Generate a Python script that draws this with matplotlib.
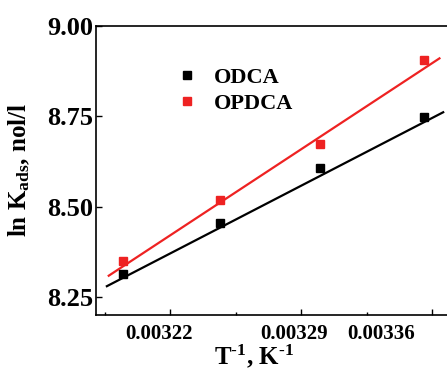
# ln K_ads vs 1/T for ODCA and OPDCA
import numpy as np
import matplotlib
matplotlib.use("Agg")
import matplotlib.pyplot as plt

plt.rcParams['font.family'] = ['Liberation Serif', 'DejaVu Serif']
plt.rcParams['font.weight'] = 'bold'
plt.rcParams['mathtext.fontset'] = 'custom'
plt.rcParams['mathtext.rm'] = 'Liberation Serif:bold'
plt.rcParams['mathtext.it'] = 'Liberation Serif:bold'
plt.rcParams['mathtext.bf'] = 'Liberation Serif:bold'

# data
temps = [313, 308, 303, 298]
inv_T = [1 / t for t in temps]
odca = [8.315, 8.454, 8.608, 8.748]
opdca = [8.350, 8.517, 8.673, 8.905]
# fitted lines as drawn in the original (end points)
fit_x_b = [0.003186, 0.003366]
fit_y_b = [8.280, 8.761]
fit_x_r = [0.003187, 0.003364]
fit_y_r = [8.309, 8.910]
xticks = [0.00322, 0.00329, 0.00336]
xtick_labels = ['0.00322', '0.00329', '0.00336']
yticks = [8.25, 8.50, 8.75, 9.00]

fig = plt.figure(figsize=(4.47, 3.69), dpi=100)
ax = fig.add_axes([0.214, 0.146, 0.79, 0.784])

ax.plot(fit_x_b, fit_y_b, color='black', lw=1.6)
ax.plot(fit_x_r, fit_y_r, color='#ee2222', lw=1.6)

ax.plot(inv_T, odca, 's', color='black', ms=5.8, label='ODCA', ls='none')
ax.plot(inv_T, opdca, 's', color='#ee2222', ms=5.8, label='OPDCA', ls='none')

ax.set_xlim(0.00318, 0.003369)
ax.set_ylim(8.2, 9.0)
ax.spines['right'].set_visible(False)
for s in ['left', 'bottom', 'top']:
    ax.spines[s].set_linewidth(1.2)

ax.set_yticks(yticks)
ax.set_yticklabels(['8.25', '8.50', '8.75', '9.00'], fontsize=19, fontweight='bold')
ax.set_xticks(xticks)
ax.set_xticks([0.003185, 0.003255, 0.003325], minor=True)
ax.set_xticklabels([])
ax.tick_params(direction='in', length=4, width=1, top=False, right=False)
ax.tick_params(which='minor', direction='in', length=2.5, width=1)
ax.tick_params(axis='y', pad=2)

# tick labels sit a bit off their ticks in the original
label_pos = [0.003214, 0.003286, 0.003333]
for xp, txt in zip(label_pos, xtick_labels):
    ax.text(xp, -0.03, txt, transform=ax.get_xaxis_transform(), ha='center', va='top',
            fontsize=15, fontweight='bold')

ax.set_xlabel(r'T$^{\text{-1}}$, K$^{\text{-1}}$', fontsize=18, fontweight='bold')
ax.xaxis.set_label_coords(0.448, -0.095)
ax.set_ylabel(r'ln K$_{\mathregular{ads}}$, nol/l', fontsize=18, fontweight='bold')
ax.yaxis.set_label_coords(-0.18, 0.5)

ax.legend(loc='upper left', bbox_to_anchor=(0.17, 0.925), frameon=False, fontsize=16,
          handletextpad=0.7, labelspacing=0.25, handlelength=1.0, markerscale=0.9)

fig.savefig('out.png', dpi=100)
